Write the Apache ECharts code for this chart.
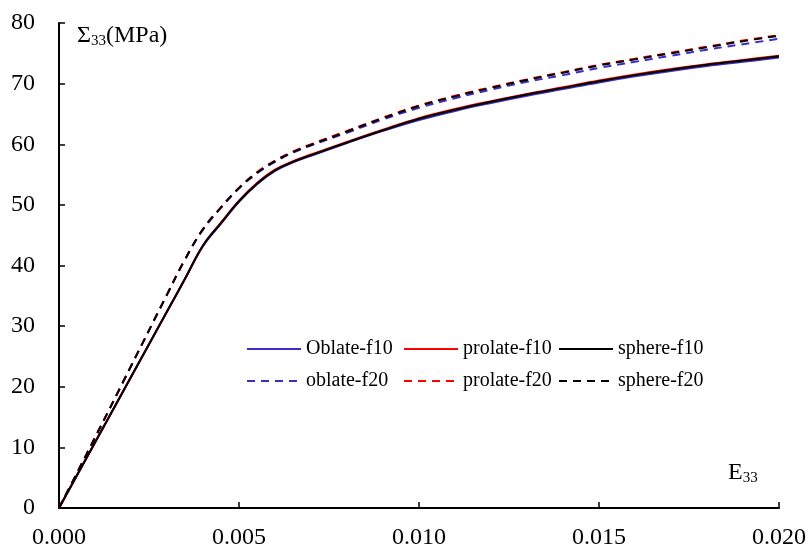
<!DOCTYPE html>
<html>
<head>
<meta charset="utf-8">
<script src="https://cdn.jsdelivr.net/npm/echarts@6/dist/echarts.min.js"></script>
<style>
  html, body { margin: 0; padding: 0; background: #fff; }
  #chart { width: 810px; height: 556px; }
</style>
</head>
<body>
<div id="chart"></div>
<script>
// Macroscopic strain E33 (shared abscissa for all curves)
const strain = [0, 0.001, 0.002, 0.003, 0.0035, 0.004, 0.0045, 0.005, 0.0055, 0.006, 0.0065, 0.007,
  0.008, 0.009, 0.010, 0.011, 0.012, 0.013, 0.014, 0.015, 0.016, 0.017, 0.018, 0.019, 0.020];

// Macroscopic stress Σ33 (MPa), porosity f = 10 %
const oblateF10  = [0, 10.8, 21.6, 32.4, 37.8, 43.2, 46.9, 50.5, 53.4, 55.6, 57.0, 58.1,
  60.2, 62.2, 64.0, 65.5, 66.8, 68.0, 69.1, 70.2, 71.2, 72.1, 72.9, 73.6, 74.3];
const prolateF10 = [0, 10.8, 21.6, 32.4, 37.8, 43.3, 47.1, 50.7, 53.6, 55.8, 57.2, 58.3,
  60.4, 62.4, 64.3, 65.8, 67.1, 68.3, 69.4, 70.5, 71.5, 72.4, 73.2, 73.9, 74.6];
const sphereF10  = [0, 10.8, 21.6, 32.4, 37.8, 43.3, 47.0, 50.6, 53.5, 55.7, 57.1, 58.2,
  60.3, 62.3, 64.2, 65.7, 67.0, 68.2, 69.3, 70.4, 71.4, 72.3, 73.1, 73.8, 74.5];

// Macroscopic stress Σ33 (MPa), porosity f = 20 %
const oblateF20  = [0, 11.6, 23.4, 35.2, 41.0, 45.9, 49.5, 52.7, 55.2, 57.1, 58.6, 59.8,
  61.9, 64.1, 66.0, 67.6, 69.0, 70.3, 71.4, 72.6, 73.6, 74.6, 75.6, 76.5, 77.4];
const prolateF20 = [0, 11.6, 23.4, 35.2, 41.0, 46.0, 49.6, 52.8, 55.4, 57.3, 58.8, 60.0,
  62.2, 64.4, 66.4, 68.0, 69.4, 70.7, 71.9, 73.1, 74.1, 75.1, 76.1, 77.1, 78.0];
const sphereF20  = [0, 11.6, 23.4, 35.2, 41.0, 46.0, 49.6, 52.8, 55.3, 57.2, 58.7, 59.9,
  62.1, 64.3, 66.3, 67.9, 69.3, 70.6, 71.8, 73.0, 74.0, 75.0, 76.0, 77.0, 77.9];

const FONT = '"Liberation Serif", "DejaVu Serif", serif';
const BLUE = '#3a2ec6', RED = '#ff0000', BLACK = '#000000';
const DASH = [8, 6];

const pairs = (ys) => strain.map((x, i) => [x, ys[i]]);

function curve(name, ys, color, dashed) {
  return {
    name, type: 'line', data: pairs(ys),
    symbol: 'none', showSymbol: false, smooth: 0.4,
    lineStyle: { color, width: 2, type: dashed ? DASH : 'solid' },
    itemStyle: { color },
    emphasis: { disabled: true },
    animation: false
  };
}

const legendText = { fontFamily: FONT, fontSize: 20, color: '#000' };
function legendColumn(names, left) {
  return {
    data: names, orient: 'vertical', left, top: 339,
    itemWidth: 54, itemHeight: 14, itemGap: 12, padding: 0,
    itemStyle: { opacity: 0, borderWidth: 0 },
    textStyle: legendText, selectedMode: false
  };
}

const subRich = {
  m: { fontFamily: FONT, fontSize: 24, fontWeight: 'normal', color: '#000' },
  s: { fontFamily: FONT, fontSize: 15, fontWeight: 'normal', color: '#000', padding: [12, 0, 0, 0] }
};

const chart = echarts.init(document.getElementById('chart'), null, { renderer: 'canvas' });
chart.setOption({
  backgroundColor: '#fff',
  animation: false,
  title: [
    {
      text: '{m|Σ}{s|33}{m|(MPa)}', left: 77, top: 22, padding: 0,
      textStyle: { fontWeight: 'normal', rich: subRich }
    },
    {
      text: '{m|E}{s|33}', left: 728, top: 459, padding: 0,
      textStyle: { fontWeight: 'normal', rich: subRich }
    }
  ],
  legend: [
    legendColumn(['Oblate-f10', 'oblate-f20'], 246),
    legendColumn(['prolate-f10', 'prolate-f20'], 403),
    legendColumn(['sphere-f10', 'sphere-f20'], 558)
  ],
  grid: { left: 59, right: 31, top: 23, bottom: 48, containLabel: false, outerBoundsMode: 'none' },
  xAxis: {
    type: 'value', min: 0, max: 0.02, interval: 0.005,
    axisLine: { show: true, onZero: false, lineStyle: { color: '#000', width: 2 } },
    axisTick: { show: true, inside: true, length: 6, lineStyle: { color: '#000', width: 1.5 } },
    axisLabel: { fontFamily: FONT, fontSize: 24, color: '#000', margin: 18,
      formatter: (v) => v.toFixed(3) },
    splitLine: { show: false }
  },
  yAxis: {
    type: 'value', min: 0, max: 80, interval: 10,
    axisLine: { show: true, onZero: false, lineStyle: { color: '#000', width: 2 } },
    axisTick: { show: true, inside: true, length: 6, lineStyle: { color: '#000', width: 1.5 } },
    axisLabel: { fontFamily: FONT, fontSize: 24, color: '#000', margin: 24 },
    splitLine: { show: false }
  },
  series: [
    curve('Oblate-f10', oblateF10, BLUE, false),
    curve('oblate-f20', oblateF20, BLUE, true),
    curve('prolate-f10', prolateF10, RED, false),
    curve('prolate-f20', prolateF20, RED, true),
    curve('sphere-f10', sphereF10, BLACK, false),
    curve('sphere-f20', sphereF20, BLACK, true)
  ]
});
</script>
</body>
</html>
